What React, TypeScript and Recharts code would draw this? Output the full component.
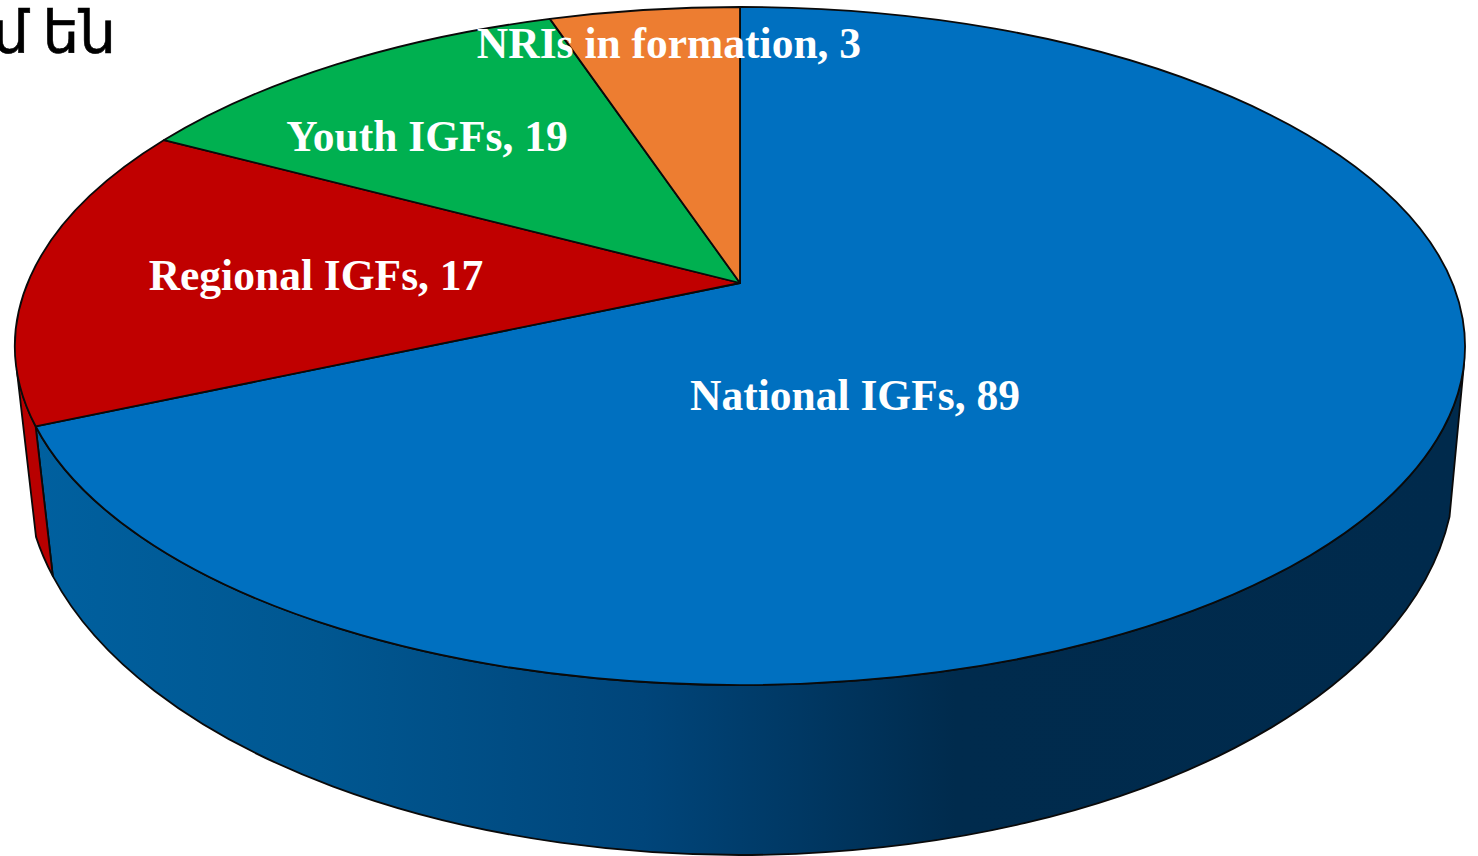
import React from "react";
import { PieChart, Pie } from "recharts";

const categories = ["National IGFs", "Regional IGFs", "Youth IGFs", "NRIs in formation"];
const counts = [89, 17, 19, 3];
const sliceColors = ["#0070C0", "#C00000", "#00B050", "#ED7D31"];
const wallColors = ["url(#blueWall)", "#B80000", "#00B050", "#ED7D31"];
const rows = categories.map((name, i) => ({ name, value: counts[i], fill: sliceColors[i] }));

// The 3D view: where a slice's edge lands on the tilted rim (degrees clockwise from the top).
const rimEdges = [0, 256.3, 307.4, 344.8, 360];
// Label offsets from the pie's apex, as placed by hand in the source.
const labelOffsets = [
  [115, 112],
  [-424, -8],
  [-313, -147],
  [-71, -240],
];

const W = 1478;
const H = 856;
const APEX_X = 740;
const APEX_Y = 283;
const RX = 725;
const TOP_RY = RX * 0.4676;
const TOP_CY = 63;
const BOT = { dx: 0, dy: 187, rx: RX * 0.986, ry: RX * 0.531 };
const total = counts.reduce((a, b) => a + b, 0);
const dataEdges = counts.reduce<number[]>((acc, v) => [...acc, acc[acc.length - 1] + (v / total) * 360], [0]);

function warp(theta: number) {
  for (let i = 0; i < dataEdges.length - 1; i++) {
    if (theta <= dataEdges[i + 1] + 1e-6) {
      const f = (theta - dataEdges[i]) / (dataEdges[i + 1] - dataEdges[i]);
      return rimEdges[i] + f * (rimEdges[i + 1] - rimEdges[i]);
    }
  }
  return 360;
}
const VIS_START = 93;
const VIS_END = 266;
function bottomParam(a: number) {
  if (a <= 256.3) return 97 + ((a - 93) / (256.3 - 93)) * (254 - 97);
  return 254 + ((a - 256.3) / (266 - 256.3)) * (260 - 254);
}
const rad = (d: number) => (d * Math.PI) / 180;
const topPt = (cx: number, cy: number, a: number) =>
  `${(cx + RX * Math.sin(rad(a))).toFixed(2)} ${(cy + TOP_CY - TOP_RY * Math.cos(rad(a))).toFixed(2)}`;
const botPt = (cx: number, cy: number, a: number) =>
  `${(cx + BOT.dx + BOT.rx * Math.sin(rad(a))).toFixed(2)} ${(cy + BOT.dy - BOT.ry * Math.cos(rad(a))).toFixed(2)}`;

function Slice(props: any) {
  const { cx, cy, startAngle, endAngle, index, fill } = props;
  const a0 = warp(90 - startAngle);
  const a1 = warp(90 - endAngle);
  const large = a1 - a0 > 180 ? 1 : 0;
  const face = `M${cx} ${cy} L${topPt(cx, cy, a0)} A${RX} ${TOP_RY} 0 ${large} 1 ${topPt(cx, cy, a1)} Z`;
  const w0 = Math.max(a0, VIS_START);
  const w1 = Math.min(a1, VIS_END);
  let wall = null;
  if (w1 > w0) {
    const b0 = bottomParam(w0);
    const b1 = bottomParam(w1);
    const d = `M${topPt(cx, cy, w0)} A${RX} ${TOP_RY} 0 ${w1 - w0 > 180 ? 1 : 0} 1 ${topPt(cx, cy, w1)} L${botPt(cx, cy, b1)} A${BOT.rx} ${BOT.ry} 0 ${b1 - b0 > 180 ? 1 : 0} 0 ${botPt(cx, cy, b0)} Z`;
    wall = <path d={d} fill={wallColors[index]} stroke="#0a0a0a" strokeWidth={1.8} strokeLinejoin="round" />;
  }
  return (
    <g>
      {index === 0 && (
        <defs>
          <linearGradient id="blueWall" gradientUnits="userSpaceOnUse" x1={36} y1={0} x2={1450} y2={0}>
            <stop offset="0" stopColor="#00609F" />
            <stop offset="0.2" stopColor="#005791" />
            <stop offset="0.43" stopColor="#00457A" />
            <stop offset="0.65" stopColor="#002B4D" />
            <stop offset="1" stopColor="#002A4C" />
          </linearGradient>
        </defs>
      )}
      {wall}
      <path d={face} fill={fill} stroke="#0a0a0a" strokeWidth={1.8} strokeLinejoin="round" />
    </g>
  );
}

function SliceLabel(props: any) {
  const { index, name, value } = props;
  const [dx, dy] = labelOffsets[index];
  return (
    <text
      x={APEX_X + dx}
      y={APEX_Y + dy}
      textAnchor="middle"
      dominantBaseline="central"
      fill="#ffffff"
      fontFamily="'Liberation Serif', serif"
      fontWeight={700}
      fontSize={43.5}
    >
      {`${name}, ${value}`}
    </text>
  );
}

export default function App() {
  return (
    <div style={{ position: "absolute", left: 0, top: 0, width: W, height: H, background: "#fff", overflow: "hidden" }}>
      <div
        style={{
          position: "absolute",
          right: W - 116,
          top: -2,
          fontFamily: "'DejaVu Sans', sans-serif",
          fontSize: 58,
          lineHeight: "70px",
          wordSpacing: -5,
          WebkitTextStroke: "0.6px #000",
          color: "#000",
          whiteSpace: "nowrap",
        }}
      >
        ում են
      </div>
      <div style={{ position: "absolute", left: 0, top: 0 }}>
        <PieChart width={W} height={H} margin={{ top: 0, right: 0, bottom: 0, left: 0 }}>
          <Pie
            data={rows}
            dataKey="value"
            nameKey="name"
            cx={APEX_X}
            cy={APEX_Y}
            outerRadius={RX}
            innerRadius={0}
            startAngle={90}
            endAngle={-270}
            paddingAngle={0}
            isAnimationActive={false}
            shape={Slice}
            label={SliceLabel}
            labelLine={false}
          />
        </PieChart>
      </div>
    </div>
  );
}
